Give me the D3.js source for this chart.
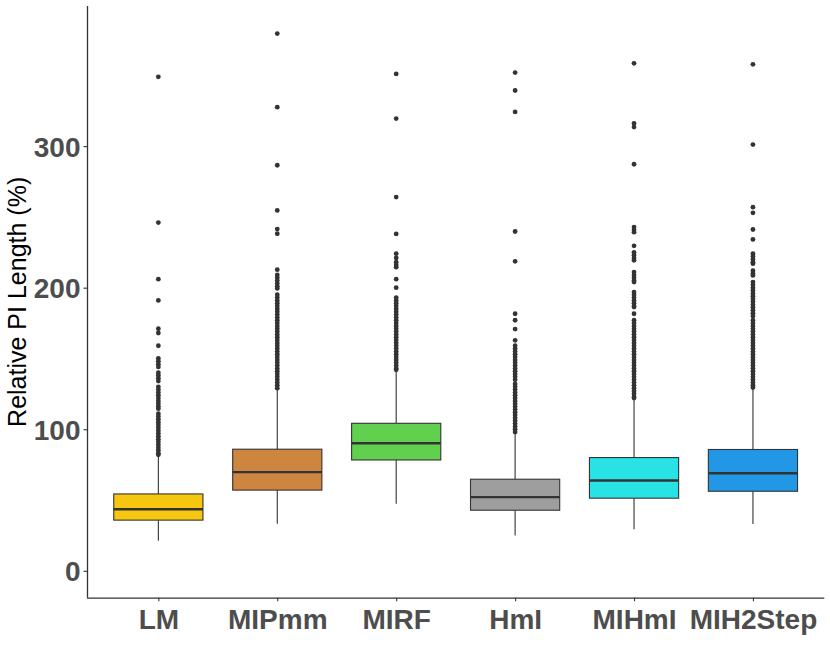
<!DOCTYPE html>
<html>
  <head>
    <meta charset="utf-8">
    <title>Relative PI Length</title>
    <script src="https://d3js.org/d3.v7.min.js"></script>
    <style>
      body { margin: 0; background: #fff; }
      text { font-family: "Liberation Sans", Arial, sans-serif; }
    </style>
  </head>
  <body>
    <svg id="chart" width="830" height="664"></svg>
    <script>
// categories and box colours
var methods = ["LM", "MIPmm", "MIRF", "HmI", "MIHmI", "MIH2Step"];
var fills = ["#F5C710", "#CD853F", "#61D04F", "#9E9E9E", "#28E2E5", "#2297E6"];

// box statistics (%)
var lowerWhisker = [21.2, 33.2, 47.3, 25.0, 29.4, 33.0];
var q1 = [35.8, 57.0, 78.3, 42.8, 51.3, 56.2];
var median = [43.5, 69.7, 90.1, 52.0, 63.8, 68.9];
var q3 = [54.3, 85.9, 104.2, 64.7, 80.0, 85.7];
var upperWhisker = [80.5, 128.0, 141.6, 97.0, 121.9, 128.7];

// outliers per method
var outLM = [349, 246, 206, 191, 171, 168, 159, 150, 148, 146, 144, 140, 138, 136, 134,
  130, 128, 126, 124, 122, 120, 118, 116, 114.5, 111, 109, 107, 105, 103, 101, 99, 97,
  95, 93, 91, 89, 87, 85, 83, 82];
var outMIPmm = [379.5, 327.5, 286.5, 254.6, 241.4, 238.1, 212.7, 209, 207, 205, 203, 201,
  199.5, 195, 193, 191, 189, 187, 185, 183, 181, 179, 177, 175, 173, 171, 169, 167, 165,
  163, 161, 159, 157, 155, 153, 151, 149, 147, 145, 143, 141, 139, 137, 135, 133, 131, 129];
var outMIRF = [351, 319.5, 264, 238, 224, 221, 218, 216, 214.5, 206, 200, 193, 191, 189,
  187, 185, 183, 181, 179, 177, 175, 173, 171, 169, 167, 165, 163, 161, 159, 157, 155,
  153, 151, 149, 147, 145, 143, 142];
var outHmI = [352, 339.3, 324.2, 239.7, 218.6, 181.6, 177, 170.8, 162.8, 159, 157, 155,
  153, 151, 149, 147, 145, 143, 141, 139, 137, 135, 132, 130, 128, 126, 124, 122, 120,
  118, 116, 114, 112, 110, 108, 106, 104, 102, 100, 98];
var outMIHmI = [358.5, 316, 313.5, 287.2, 242.8, 241, 239.2, 229.6, 225, 223, 221, 219.3,
  211, 209, 207, 205, 204, 196.9, 195, 193, 191, 189, 187, 186.3, 181.6, 177, 175, 173,
  171, 169, 167, 165, 163, 161, 159, 157, 155, 153, 151, 149, 147, 145, 143, 141, 139,
  137, 135, 133, 131, 129, 127, 125, 123, 122];
var outMIH2Step = [357.8, 301.1, 256.9, 252.9, 241.1, 234.1, 224, 222, 220, 218, 217, 212,
  210, 208.7, 204, 202, 200, 198, 195.8, 194, 192, 190, 188, 186, 184, 182, 180, 177,
  175, 173, 171, 169, 167, 165, 163, 161, 159, 157, 155, 153, 151, 149, 147, 145, 143,
  141, 139, 137, 135, 133, 131, 129.5];
var outliers = [outLM, outMIPmm, outMIRF, outHmI, outMIHmI, outMIH2Step];

// y ticks
var yTicks = [0, 100, 200, 300];

var svg = d3.select("#chart");
var panelLeft = 87, panelRight = 824.3, panelTop = 6, panelBottom = 597.7;

var x = d3.scalePoint()
  .domain(methods)
  .range([panelLeft, panelRight])
  .padding(0.6);

var y = d3.scaleLinear()
  .domain([-19, 399])
  .range([panelBottom, panelTop]);

var boxW = x.step() * 0.75;

var rows = methods.map(function(m, i) {
  return {
    name: m, fill: fills[i], lw: lowerWhisker[i], q1: q1[i], med: median[i],
    q3: q3[i], uw: upperWhisker[i], out: outliers[i]
  };
});

var g = svg.append("g");

var box = g.selectAll("g.box")
  .data(rows)
  .enter().append("g")
  .attr("class", "box");

// whiskers
box.append("line")
  .attr("x1", function(d) { return x(d.name); })
  .attr("x2", function(d) { return x(d.name); })
  .attr("y1", function(d) { return y(d.q3); })
  .attr("y2", function(d) { return y(d.uw); })
  .attr("stroke", "#333").attr("stroke-width", 1.1);
box.append("line")
  .attr("x1", function(d) { return x(d.name); })
  .attr("x2", function(d) { return x(d.name); })
  .attr("y1", function(d) { return y(d.q1); })
  .attr("y2", function(d) { return y(d.lw); })
  .attr("stroke", "#333").attr("stroke-width", 1.1);

// box body
box.append("rect")
  .attr("x", function(d) { return x(d.name) - boxW / 2; })
  .attr("width", boxW)
  .attr("y", function(d) { return y(d.q3); })
  .attr("height", function(d) { return y(d.q1) - y(d.q3); })
  .attr("fill", function(d) { return d.fill; })
  .attr("stroke", "#333").attr("stroke-width", 1.1);

// median
box.append("line")
  .attr("x1", function(d) { return x(d.name) - boxW / 2; })
  .attr("x2", function(d) { return x(d.name) + boxW / 2; })
  .attr("y1", function(d) { return y(d.med); })
  .attr("y2", function(d) { return y(d.med); })
  .attr("stroke", "#333").attr("stroke-width", 2.3);

// outliers
box.selectAll("circle")
  .data(function(d) { return d.out.map(function(v) { return { name: d.name, v: v }; }); })
  .enter().append("circle")
  .attr("cx", function(d) { return x(d.name); })
  .attr("cy", function(d) { return y(d.v); })
  .attr("r", 2.4)
  .attr("fill", "#333");

// axes
var yAxis = svg.append("g")
  .attr("transform", "translate(" + panelLeft + ",0)")
  .call(d3.axisLeft(y).tickValues(yTicks).tickSize(3.5).tickPadding(3));
var xAxis = svg.append("g")
  .attr("transform", "translate(0," + panelBottom + ")")
  .call(d3.axisBottom(x).tickSize(3.5).tickPadding(4));

[yAxis, xAxis].forEach(function(a) {
  a.select(".domain").attr("stroke", "#333").attr("stroke-width", 1.3);
  a.selectAll(".tick line").attr("stroke", "#333").attr("stroke-width", 1.1);
  a.selectAll(".tick text")
    .attr("fill", "#4D4D4D")
    .style("font-size", "28px")
    .style("font-weight", "bold");
});
yAxis.select(".domain").attr("d", "M0.5," + panelTop + "V" + panelBottom);
xAxis.select(".domain").attr("d", "M" + panelLeft + ",0.5H" + panelRight);
yAxis.selectAll(".tick text").attr("dy", "0.36em");
xAxis.selectAll(".tick text").attr("dy", "0.85em");

// y label
svg.append("text")
  .attr("transform", "translate(26," + ((panelTop + panelBottom) / 2) + ") rotate(-90)")
  .attr("text-anchor", "middle")
  .style("font-size", "25px")
  .attr("fill", "#000")
  .text("Relative PI Length (%)");
    </script>
  </body>
</html>
